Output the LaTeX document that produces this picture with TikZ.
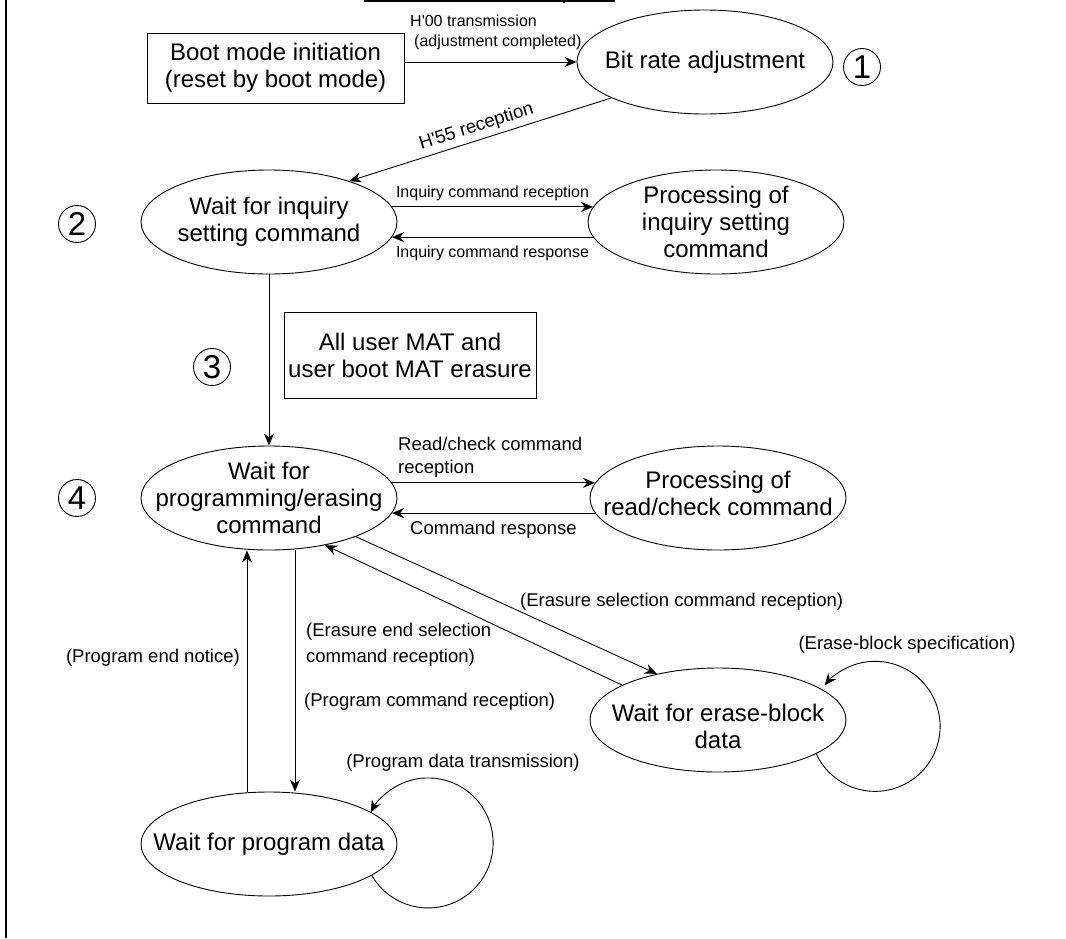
\documentclass[tikz,border=0pt]{standalone}
\usepackage{fontspec}
\setmainfont{Liberation Sans}
\usetikzlibrary{shapes.geometric,arrows.meta,calc}
\begin{document}
\begin{tikzpicture}[x=1pt,y=1pt,
  state/.style={ellipse, draw, line width=0.9pt, minimum width=256pt, minimum height=104pt, inner sep=0pt},
  big/.style={font=\fontsize{24}{27}\selectfont, align=center, inner sep=0pt},
  mid/.style={font=\fontsize{18.5}{23}\selectfont, inner sep=0pt},
  sml/.style={font=\fontsize{16}{20}\selectfont, inner sep=0pt},
  arr/.style={-{Stealth[length=12pt,width=10pt,inset=4pt]}, line width=0.9pt},
  num/.style={circle, draw, line width=0.9pt, minimum size=37pt, inner sep=0pt, font=\fontsize{33}{33}\selectfont},
  boxn/.style={draw, line width=0.9pt, inner sep=0pt}]
\useasboundingbox (0,0) rectangle (1066,-938);
% frame fragments
\draw[line width=2.5pt] (6,0) -- (6,-938);
\draw[line width=1.5pt] (364,-1) -- (615,-1);
\draw[line width=1.2pt] (564,0) -- (564,-3);
% nodes
\node[boxn, minimum width=257pt, minimum height=70pt, big] (boot) at (275.5,-68) {Boot mode initiation\\(reset by boot mode)};
\node[state] (bit) at (705,-62) {};
\node[big] (bitT) at (bit) {Bit rate adjustment};
\node[num] (n1) at (862,-67) {1};
\node[state] (inq) at (269,-222) {};
\node[big] (inqT) at (inq) {Wait for inquiry\\setting command};
\node[state] (proc1) at (716,-222) {};
\node[big] (proc1T) at (proc1) {Processing of\\inquiry setting\\command};
\node[num] (n2) at (77,-224) {2};
\node[boxn, minimum width=252pt, minimum height=86pt, big] (mat) at (410,-355) {All user MAT and\\user boot MAT erasure};
\node[num] (n3) at (212,-367) {3};
\node[state] (prog) at (269,-498) {};
\node[big] (progT) at (prog) {Wait for\\programming/erasing\\command};
\node[num] (n4) at (77,-498) {4};
\node[state] (rc) at (718,-498) {};
\node[big] (rcT) at ([yshift=5pt]rc.center) {Processing of\\read/check command};
\node[state] (erase) at (718,-720) {};
\node[big] (eraseT) at ([yshift=-6pt]erase.center) {Wait for erase-block\\data};
\node[state] (data) at (269,-844) {};
\node[big] (dataT) at (data) {Wait for program data};
% connectors
\draw[arr] (boot.east |- bit.west) -- (bit.west);
\node[sml, anchor=south west, align=left] (l00) at (410,-50) {H\textquotesingle 00 transmission\\\hspace{4pt}(adjustment completed)};
\draw[arr] (bit.201) -- node[mid, sloped, above=4pt] (l55) {H\textquotesingle 55 reception} (inq.27);
\draw[arr] (inq.7) -- node[sml, above=6pt] (lir) {Inquiry command reception} (proc1.173);
\draw[arr] (proc1.187) -- node[sml, below=8pt] (lis) {Inquiry command response} (inq.-7);
\draw[arr] (inq.south) -- (prog.north);
\draw[arr] (prog.7) -- (rc.173);
\node[mid, anchor=west, align=left] (lrc) at (398,-457) {Read/check command\\reception};
\draw[arr] (rc.187) -- node[mid, below=8pt] (lcr) {Command response} (prog.-7);
\draw[arr] (prog.-24) -- (erase.143);
\draw[arr] (erase.160) -- (prog.-40);
\node[mid, anchor=west] (les) at (520,-602) {(Erasure selection command reception)};
\node[mid, anchor=west, align=left, font=\fontsize{18.5}{26}\selectfont] (lee) at (306,-645) {(Erasure end selection\\command reception)};
\node[mid, anchor=west] (lpc) at (304,-702) {(Program command reception)};
\node[mid, anchor=east] (lpe) at (240,-658) {(Program end notice)};
\draw[arr] ([xshift=-22pt]data.north) -- ([xshift=-22pt]prog.south);
\draw[arr] ([xshift=26pt]prog.south) -- ([xshift=26pt]data.north);
\draw[arr] (data.-17) arc[start angle=-150, end angle=152, radius=65];
\node[mid] (lpd) at (463,-763) {(Program data transmission)};
\draw[arr] (erase.-19) arc[start angle=-155, end angle=141, radius=65];
\node[mid] (leb) at (907,-645) {(Erase-block specification)};
\end{tikzpicture}
\end{document}
